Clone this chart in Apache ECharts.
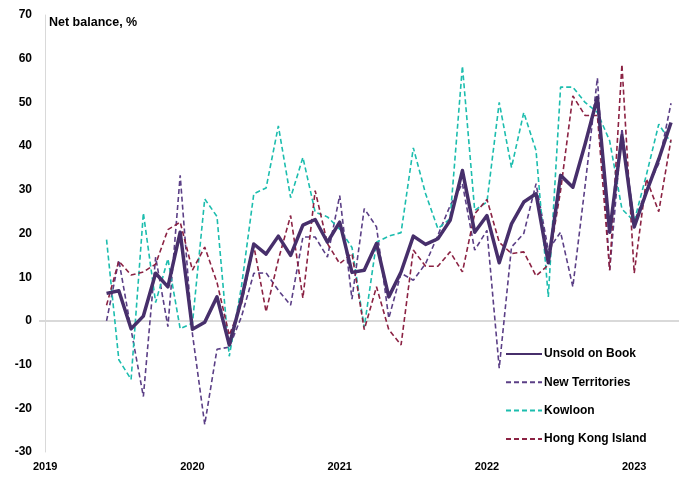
<!DOCTYPE html>
<html>
<head>
<meta charset="utf-8">
<script src="https://cdn.jsdelivr.net/npm/echarts@6/dist/echarts.min.js"></script>
<style>
  html, body { margin: 0; padding: 0; background: #fff; }
  #chart { width: 684px; height: 480px; }
</style>
</head>
<body>
<div id="chart"></div>
<script>
// Monthly net balance readings, June 2019 to April 2023
const firstMonth = 5; // months after January 2019
const yearLabels = ['2019', '2020', '2021', '2022', '2023'];
const yearTicks = [0, 12, 24, 36, 48];
const yTicks = [-30, 70, 10];

const unsoldOnBook = [6.3, 6.9, -1.8, 1.1, 10.9, 7.8, 20.3, -1.9, -0.3, 5.5, -5.5, 5,
  17.6, 15.3, 19.4, 15, 21.9, 23.2, 18, 22.6, 11.1, 11.6, 17.7, 5.5,
  11.2, 19.4, 17.5, 18.8, 23, 34.4, 20.3, 24.1, 13.3, 22.2, 27.2, 29.1,
  13.3, 33.3, 30.6, 40.5, 51.1, 20.3, 42.4, 21.5, 29.5, 37, 45.4];

const newTerritories = [0, 13.9, -2, -17.3, 14.6, -1.3, 33.3, -3, -23.7, -6.5, -6, 1,
  10.9, 11, 7, 3.6, 19.2, 19.2, 14.6, 28.7, 5, 25.7, 21.5, 0.6,
  10.9, 9.3, 13.1, 19.6, 26.4, 31.4, 16.2, 20.7, -10.8, 16.9, 20, 31.4,
  16.2, 20.3, 7.8, 31, 55.6, 11.6, 44, 22.6, 30, 36, 49.8];

const kowloon = [18.6, -8.9, -13.4, 24.7, 4.2, 14.2, -1.8, -0.5, 27.9, 23.9, -8.1, 8,
  29.1, 30.4, 44.6, 28.2, 37.4, 24.9, 23.8, 21, 16.8, -1.5, 18, 19.4,
  20.2, 39.6, 29.1, 21.1, 23.4, 58.3, 25.3, 27.2, 50, 35.1, 47.7, 39,
  5.5, 53.5, 53.5, 50, 47.7, 41.2, 25.6, 22.8, 33.5, 45, 40.8];

const hongKongIsland = [3.6, 13.7, 10.5, 11.2, 13, 20.9, 22.6, 11.6, 16.9, 8.8, -3.3, 4,
  17.2, 2.1, 14, 24.1, 5.2, 29.8, 17.7, 13.1, 15.4, -2, 7.8, -2,
  -5.5, 16.2, 12.5, 12.5, 15.8, 11.2, 24.5, 27.8, 18, 15.4, 15.8, 10.3,
  12.8, 29.8, 51.5, 47, 47, 11.6, 58.7, 10.9, 32.5, 25, 41.5];

function toPoints(values) {
  return values.map((v, i) => [firstMonth + i, v]);
}

const labelFont = { fontFamily: 'Liberation Sans, Arial, sans-serif', fontWeight: 'bold', color: '#000' };

const chart = echarts.init(document.getElementById('chart'), null, { renderer: 'canvas' });

chart.setOption({
  animation: false,
  backgroundColor: '#fff',
  title: {
    text: 'Net balance, %',
    left: 49,
    top: 16,
    padding: 0,
    textStyle: Object.assign({ fontSize: 12.5 }, labelFont)
  },
  grid: { left: 39, right: 5, top: 15, bottom: 28, containLabel: false },
  legend: {
    orient: 'vertical',
    left: 505,
    top: 348,
    itemWidth: 36,
    itemHeight: 14,
    itemGap: 16.3,
    padding: 0,
    itemStyle: { opacity: 0 },
    textStyle: Object.assign({ fontSize: 12, padding: [0, 0, 0, -3] }, labelFont),
    data: ['Unsold on Book', 'New Territories', 'Kowloon', 'Hong Kong Island']
  },
  xAxis: {
    type: 'value',
    min: -0.505,
    max: 51.65,
    axisLine: { show: false },
    axisTick: { show: false },
    splitLine: { show: false },
    axisLabel: Object.assign({
      fontSize: 11,
      margin: 9,
      customValues: yearTicks,
      formatter: v => yearLabels[Math.round(v / 12)]
    }, labelFont)
  },
  yAxis: {
    type: 'value',
    min: yTicks[0],
    max: yTicks[1],
    interval: yTicks[2],
    axisLine: { show: true, lineStyle: { color: '#d9d9d9', width: 1 } },
    axisTick: { show: false },
    splitLine: { show: false },
    axisLabel: Object.assign({ fontSize: 12, margin: 7 }, labelFont)
  },
  series: [
    {
      name: 'Unsold on Book',
      type: 'line',
      z: 5,
      symbol: 'none',
      data: toPoints(unsoldOnBook),
      lineStyle: { color: '#472f6b', width: 3.5, join: 'round' },
      itemStyle: { color: '#472f6b' }
    },
    {
      name: 'New Territories',
      type: 'line',
      z: 3,
      symbol: 'none',
      data: toPoints(newTerritories),
      lineStyle: { color: '#5b3f86', width: 1.6, type: [5, 3] },
      itemStyle: { color: '#5b3f86' },
      markLine: {
        silent: true,
        symbol: 'none',
        label: { show: false },
        lineStyle: { color: '#d9d9d9', width: 2, type: 'solid' },
        data: [{ yAxis: 0 }],
        z: 1
      }
    },
    {
      name: 'Kowloon',
      type: 'line',
      z: 3,
      symbol: 'none',
      data: toPoints(kowloon),
      lineStyle: { color: '#1cbdae', width: 1.6, type: [5, 3] },
      itemStyle: { color: '#1cbdae' }
    },
    {
      name: 'Hong Kong Island',
      type: 'line',
      z: 3,
      symbol: 'none',
      data: toPoints(hongKongIsland),
      lineStyle: { color: '#8b2243', width: 1.6, type: [5, 3] },
      itemStyle: { color: '#8b2243' }
    }
  ]
});
</script>
</body>
</html>
